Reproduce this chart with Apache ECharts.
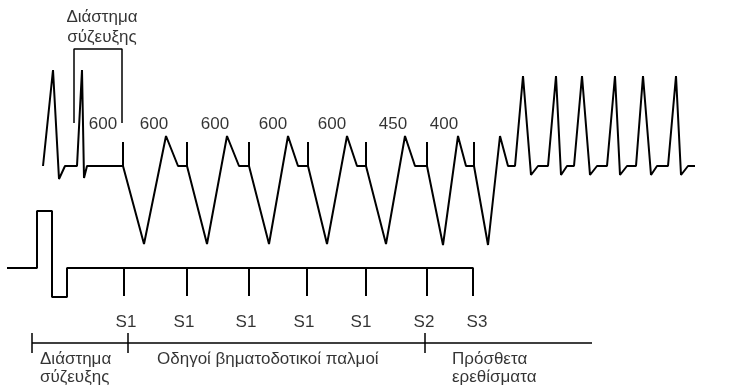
<!DOCTYPE html>
<html><head><meta charset="utf-8">
<script src="https://cdn.jsdelivr.net/npm/echarts@6/dist/echarts.min.js"></script>
<style>html,body{margin:0;padding:0;background:#fff}#c{width:736px;height:387px}</style>
</head><body><div id="c"></div>
<script>
// ECG trace (time, amplitude)
const ecgX = [43,53,59,65,77,82,84,87,123,123,123,144,166,178,187,187,187,207,227,239,249,249,249,269,288,298,308,308,308,327,347,357,366,366,366,386,405,415,427,427,427,443,458,466,474,474,474,488,500,508,515,523,531,538,548,556,561,567,574,582,590,597,607,615,620,627,636,643,651,657,668,676,681,688,695];
const ecgY = [166,70,179,166,166,70,178,166,166,142,166,244,136,166,166,142,166,244,136,166,166,142,166,244,136,166,166,142,166,244,136,166,166,142,166,244,136,166,166,142,166,245,136,166,166,142,166,245,136,166,166,76,175,166,166,76,175,166,166,76,175,166,166,76,175,166,166,76,175,166,166,76,175,166,166];
// Stimulation channel
const stimX = [7,37,37,52,52,67,67,124,124,124,187,187,187,249,249,249,307,307,307,366,366,366,427,427,427,473,473];
const stimY = [268,268,211,211,297,297,268,268,296,268,268,296,268,268,296,268,268,296,268,268,296,268,268,296,268,268,296];
// Timeline
const timeX = [32,32,32,128,128,128,128,425,425,425,425,592];
const timeY = [333,353,343,343,333,353,343,343,333,353,343,343];
// Coupling bracket
const brX = [74,74,122,122];
const brY = [123,49,49,123];
// Interval labels (ms)
const intervalLabels = ['600','600','600','600','600','450','400'];
const intervalX = [103,154,215,273,332,393,444];
const intervalY = 124;
// Stimulus labels
const stimLabels = ['S1','S1','S1','S1','S1','S2','S3'];
const stimLabelX = [126,184,246,304,361,424,477];
const stimLabelY = 322;
// Text annotations
const notes = [
  {t:'Διάστημα\nσύζευξης', x:102, y:27, align:'center', lh:20},
  {t:'Διάστημα\nσύζευξης', x:40, y:368, align:'left', lh:18},
  {t:'Οδηγοί βηματοδοτικοί παλμοί', x:157, y:359, align:'left', lh:18},
  {t:'Πρόσθετα\nερεθίσματα', x:452, y:368, align:'left', lh:18}
];

const zip = (a,b)=>a.map((v,i)=>[v,b[i]]);
const font = "'Liberation Sans', Arial, sans-serif";
const lineS = (d,w)=>({type:'line',data:d,showSymbol:false,symbol:'none',lineStyle:{color:'#000',width:w},silent:true,animation:false});
const textS = (items)=>({type:'scatter',symbolSize:0,animation:false,silent:true,
  data: items.map(o=>({value:[o.x,o.y],label:{show:true,formatter:o.t,position:o.align==='left'?'right':'inside',distance:0,align:o.align,verticalAlign:'middle',color:'#000',fontSize:17,fontFamily:font,lineHeight:o.lh||20}}))});

const chart = echarts.init(document.getElementById('c'),null,{renderer:'canvas'});
chart.setOption({
  animation:false,
  grid:{left:0,right:0,top:0,bottom:0},
  xAxis:{type:'value',min:0,max:736,show:false},
  yAxis:{type:'value',min:0,max:387,inverse:true,show:false},
  series:[
    lineS(zip(ecgX,ecgY),2),
    lineS(zip(stimX,stimY),2),
    lineS(zip(timeX,timeY),1.5),
    lineS(zip(brX,brY),1.5),
    textS(intervalLabels.map((t,i)=>({t,x:intervalX[i],y:intervalY,align:'center'}))),
    textS(stimLabels.map((t,i)=>({t,x:stimLabelX[i],y:stimLabelY,align:'center'}))),
    textS(notes)
  ]
});
</script></body></html>
